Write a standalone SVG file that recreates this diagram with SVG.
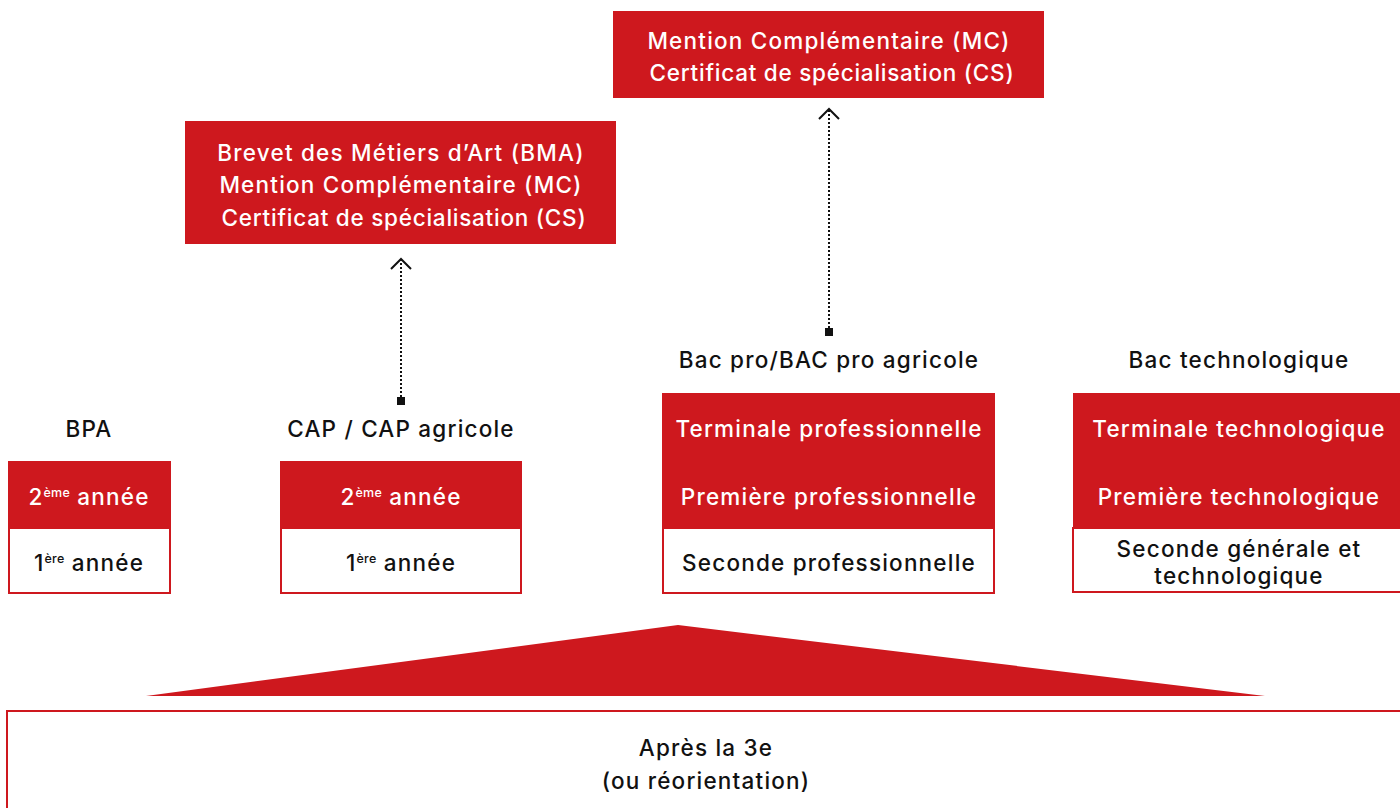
<svg xmlns="http://www.w3.org/2000/svg" width="1400" height="808" viewBox="0 0 1400 808">
<style>
.red{fill:#CE181E}
.wbox{fill:#fff;stroke:#CE181E;stroke-width:2}
text{font-family:Inter,"Open Sans","Liberation Sans",sans-serif;font-size:22.5px;font-weight:500;letter-spacing:1.2px;text-anchor:middle}
.w{fill:#fff}
.k{fill:#111}
.sup{font-size:12.5px;letter-spacing:0.3px}
.cs{letter-spacing:0.75px}
.conn{stroke:#111;stroke-width:2;stroke-dasharray:2 2;fill:none}
.head{stroke:#111;stroke-width:2;fill:none}
</style>
<g id="connectors">
<line class="conn" x1="401" y1="401" x2="401" y2="259"/>
<polyline class="head" points="391,269 401,259 411,269"/>
<rect x="397" y="397" width="8" height="8" fill="#111"/>
<line class="conn" x1="829" y1="332" x2="829" y2="109"/>
<polyline class="head" points="819,119 829,109 839,119"/>
<rect x="825" y="328" width="8" height="8" fill="#111"/>
</g>
<g id="mc-cs-top">
<rect class="red" x="613" y="11" width="431" height="87"/>
<text class="w" x="829" y="49">Mention Complémentaire (MC)</text>
<text class="w cs" x="832" y="81">Certificat de spécialisation (CS)</text>
</g>
<g id="bma">
<rect class="red" x="185" y="121" width="431" height="123"/>
<text class="w" x="401" y="161">Brevet des Métiers d’Art (BMA)</text>
<text class="w" x="401" y="193">Mention Complémentaire (MC)</text>
<text class="w cs" x="404" y="226">Certificat de spécialisation (CS)</text>
</g>
<g id="bpa">
<text class="k" x="89" y="437">BPA</text>
<rect class="red" x="8" y="461" width="163" height="67"/>
<rect class="wbox" x="9" y="528" width="161" height="65"/>
<text class="w" x="89" y="505">2<tspan class="sup" dy="-8">ème</tspan><tspan dy="8"> année</tspan></text>
<text class="k" x="89" y="571">1<tspan class="sup" dy="-8">ère</tspan><tspan dy="8"> année</tspan></text>
</g>
<g id="cap">
<text class="k" x="401" y="437">CAP / CAP agricole</text>
<rect class="red" x="280" y="461" width="242" height="67"/>
<rect class="wbox" x="281" y="528" width="240" height="65"/>
<text class="w" x="401" y="505">2<tspan class="sup" dy="-8">ème</tspan><tspan dy="8"> année</tspan></text>
<text class="k" x="401" y="571">1<tspan class="sup" dy="-8">ère</tspan><tspan dy="8"> année</tspan></text>
</g>
<g id="bacpro">
<text class="k" x="829" y="368">Bac pro/BAC pro agricole</text>
<rect class="red" x="662" y="393" width="333" height="135"/>
<rect class="wbox" x="663" y="528" width="331" height="65"/>
<text class="w" x="829" y="437">Terminale professionnelle</text>
<text class="w" x="829" y="505">Première professionnelle</text>
<text class="k" x="829" y="571">Seconde professionnelle</text>
</g>
<g id="bactechno">
<text class="k" x="1239" y="368">Bac technologique</text>
<rect class="red" x="1073" y="393" width="330" height="135"/>
<rect class="wbox" x="1073" y="528" width="330" height="64"/>
<text class="w" x="1239" y="437">Terminale technologique</text>
<text class="w" x="1239" y="505">Première technologique</text>
<text class="k" x="1239" y="557">Seconde générale et</text>
<text class="k" x="1239" y="584">technologique</text>
</g>
<g id="triangle">
<polygon class="red" points="678,625 1265,696 146,696"/>
</g>
<g id="apres-3e">
<rect class="wbox" x="7" y="711" width="1400" height="110"/>
<text class="k" x="706" y="756">Après la 3e</text>
<text class="k" x="706" y="789">(ou réorientation)</text>
</g>
</svg>
